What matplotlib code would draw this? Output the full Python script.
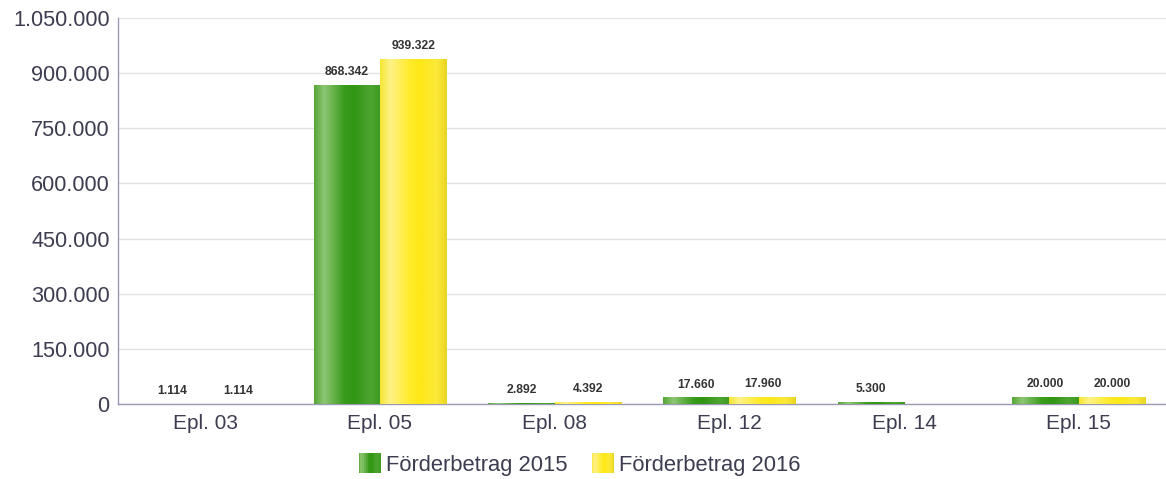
import numpy as np
import matplotlib
matplotlib.use("Agg")
import matplotlib.pyplot as plt
from matplotlib.colors import LinearSegmentedColormap
from matplotlib.patches import Rectangle
from matplotlib.legend_handler import HandlerBase
from matplotlib.ticker import FuncFormatter, MultipleLocator

plt.rcParams['font.family'] = ['Liberation Sans', 'DejaVu Sans']

categories = ["Epl. 03", "Epl. 05", "Epl. 08", "Epl. 12", "Epl. 14", "Epl. 15"]
foerder_2015 = [1114, 868342, 2892, 17660, 5300, 20000]
foerder_2016 = [1114, 939322, 4392, 17960, np.nan, 20000]
series_names = ["Förderbetrag 2015", "Förderbetrag 2016"]

green_cmap = LinearSegmentedColormap.from_list("g", [
    (0.0, "#55a535"), (0.15, "#8ec673"), (0.45, "#3a9c1c"),
    (0.6, "#319614"), (0.85, "#4fa532"), (1.0, "#3b9a1e")])
yellow_cmap = LinearSegmentedColormap.from_list("y", [
    (0.0, "#f6e634"), (0.15, "#fff287"), (0.45, "#ffea2a"),
    (0.6, "#ffe816"), (0.85, "#fbe83a"), (1.0, "#e8d522")])
cmaps = [green_cmap, yellow_cmap]

text_col = "#3d3d52"
axis_col = "#9a9ab6"

fig = plt.figure(figsize=(11.66, 4.79), dpi=100)
ax = fig.add_axes([0.1012, 0.1566, 0.8988, 0.8058])

x = np.arange(len(categories))
width = 0.38
grad = np.linspace(0, 1, 256).reshape(1, -1)

for i, (vals, cm) in enumerate(zip([foerder_2015, foerder_2016], cmaps)):
    offs = (i - 0.5) * width
    bars = ax.bar(x + offs, np.nan_to_num(vals), width, color=cm(0.5), zorder=2)
    for b, v in zip(bars, vals):
        if np.isnan(v):
            continue
        x0, y0 = b.get_x(), b.get_y()
        # gradient fill clipped to the bar
        im = ax.imshow(grad, cmap=cm, aspect='auto', zorder=3,
                       extent=(x0, x0 + b.get_width(), y0, y0 + b.get_height()))
        im.set_clip_path(b)
        lbl = f"{int(v):,}".replace(",", ".")
        ax.annotate(lbl, (x0 + b.get_width() / 2, v), xytext=(0, 5),
                    textcoords="offset points", ha="center", va="bottom",
                    fontsize=8.7, fontweight="bold", color="#333333")

ax.set_xlim(-0.5, len(categories) - 0.5)
ax.set_ylim(0, 1050000)
ax.yaxis.set_major_locator(MultipleLocator(150000))
ax.yaxis.set_major_formatter(FuncFormatter(lambda v, p: f"{int(v):,}".replace(",", ".")))
ax.set_xticks(x)
ax.set_xticklabels(categories)
ax.tick_params(axis="both", length=0, colors=text_col)
ax.tick_params(axis="x", pad=7, labelsize=15)
ax.tick_params(axis="y", pad=6, labelsize=15.6)
ax.grid(axis="y", color="#e2e2e6", linewidth=1, zorder=0)
ax.set_axisbelow(True)
for s in ["top", "right"]:
    ax.spines[s].set_visible(False)
for s in ["left", "bottom"]:
    ax.spines[s].set_color(axis_col)
    ax.spines[s].set_linewidth(1)


class GradHandler(HandlerBase):
    def __init__(self, cmap):
        super().__init__()
        self.cmap = cmap

    def create_artists(self, legend, orig, xd, yd, w, h, fontsize, trans):
        n = 12
        hh = h * 1.3
        y0 = yd - (hh - h) / 2
        arts = []
        for k in range(n):
            r = Rectangle((xd + k * w / n, y0), w / n + 0.3, hh,
                          facecolor=self.cmap((k + 0.5) / n), edgecolor="none",
                          transform=trans)
            arts.append(r)
        return arts


h1 = Rectangle((0, 0), 1, 1)
h2 = Rectangle((0, 0), 1, 1)
fig.legend([h1, h2], series_names, loc="center", bbox_to_anchor=(0.497, 0.028),
           ncol=2, frameon=False, fontsize=15.8, labelcolor=text_col,
           handler_map={h1: GradHandler(green_cmap), h2: GradHandler(yellow_cmap)},
           handlelength=1.0, handletextpad=0.25, columnspacing=1.1)

fig.savefig("out.png", dpi=100)
